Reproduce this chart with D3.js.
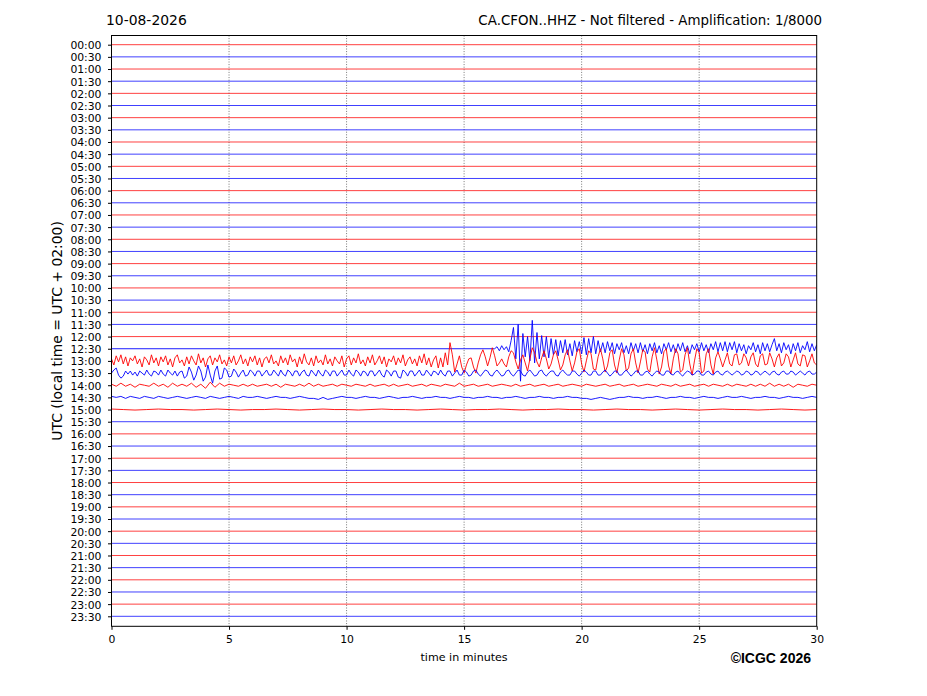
<!DOCTYPE html>
<html>
<head>
<meta charset="utf-8">
<script src="https://cdn.jsdelivr.net/npm/d3@7"></script>
<style>
  body { margin: 0; background: #fff; }
  svg text { font-family: "DejaVu Sans", sans-serif; fill: #000; }
  .ejes path, .ejes line { stroke: #000; }
</style>
</head>
<body>
<div id="helicorder"></div>
<script>
// ---- datos ----
const fecha = "10-08-2026"
const titulo = "CA.CFON..HHZ - Not filtered - Amplification: 1/8000"
const etiquetaY = "UTC (local time = UTC + 02:00)"
const etiquetaX = "time in minutes"
const copyright = "©ICGC 2026"

const horas = d3.range(48).map(i => String(Math.floor(i / 2)).padStart(2, "0") + (i % 2 ? ":30" : ":00"))
const minutosTicks = [0, 5, 10, 15, 20, 25, 30]
const colores = ["#ff0000", "#0000ff"]

// amplitudes (12 unidades = separacion entre trazas), positivo hacia arriba
// 12:30 : plana hasta el inicio del evento
const inicio1230 = 16.3
const traza1230 = [
  0, 2, -2, 3, -1, 2, -3,
  8, 21, -10, 24, -32, 15, -8, 12, -12, 28,
  -14, 16, -10, 13, -8, 12, -9, 10, -6, 9,
  -7, 8, -4, 9, -6, 5, -7, 8, -3, 7,
  -5, 11, -6, 10, -4, 12, -5, 8, -3, 6,
  -4, 7, -2, 6, -5, 5, -1, 6, -4, 3,
  -5, 6, -2, 5, -4, 6, -3, 4, -5, 5,
  -2, 6, -4, 3, -5, 5, -1, 6, -3, 4,
  -4, 5, -2, 6, -3, 3, -5, 4, -1, 5,
  -3, 6, -2, 4, -4, 5, -1, 7, -3, 6,
  -2, 7, -3, 6, -1, 7, -4, 5, -2, 4,
  -5, 3, -1, 6, -3, 4, -5, 6, -2, 5,
  -3, 4, 10, -2, 5, -4, 6, -1, 4, -5,
  5, -2, 6, -4, 3, -1, 7, -3, 5, -2,
  4
]
// 13:00 (cada 0.1 min)
const traza1300 = [
  2, -4, 5, -1, 6, -3, 4, -5, 3, 0,
  5, -3, 2, -6, 4, 1, -4, 6, -2, 3,
  -5, 4, -1, 5, -4, 2, -6, 3, 6, -2,
  1, -5, 4, -3, 5, 0, -4, 7, -2, 3,
  -6, 2, 5, -4, 3, -1, 6, -3, 1, -5,
  4, -2, 5, -4, 0, 6, -3, 2, -5, 4,
  -1, 5, -4, 3, -6, 2, 4, -2, 6, -3,
  0, -5, 5, -2, 3, -4, 6, -1, 2, -6,
  4, -3, 7, -1, -4, 3, -5, 5, -2, 1,
  -4, 6, -3, 2, -5, 4, 0, -3, 5, -6,
  2, 5, -4, 3, -2, 7, -3, 1, -5, 4,
  -2, 6, -4, 0, 5, -3, 4, -6, 2, -1,
  5, -4, 3, -2, 6, -5, 1, 4, -3, 2,
  -5, 5, -2, 7, -4, 3, -6, 1, 5, -7,
  3, -6, 8, -4, 18, 6, -11, -3, 5, -6,
  -12, -4, 2, 3, -6, -12, -2, 6, 11, 4,
  -5, 3, 13, 5, -5, -2, 2, -3, -6, 4,
  10, 8, -1, -8, 1, 6, -2, -10, 2, 13,
  8, -1, -6, 3, 10, 2, -8, -3, 6, 10,
  1, -9, -4, 6, 11, 0, -10, -2, 9, 12,
  -3, -11, 0, 10, 7, -8, -9, 4, 12, 2,
  -11, -5, 8, 11, -4, -12, 1, 12, 6, -10,
  -7, 7, 12, -2, -12, -1, 11, 9, -8, -11,
  4, 13, 1, -13, -6, 9, 12, -5, -13, 2,
  12, 7, -11, -9, 6, 13, -3, -14, 0, 12,
  8, -12, -10, 7, 12, -4, -13, 3, 9, 2,
  -6, 1, 8, -3, -5, 6, 7, -4, -2, 7,
  3, -5, 4, 8, -3, -6, 5, 7, -4, -3,
  8, 2, -6, 3, 7, -5, -2, 7, 4, -6,
  1, 8, -3, -5, 6, 5, -6, 0, 7, -2,
  -4
]
// 13:30 (cada 0.1 min)
const traza1330 = [
  0, 3, 5, -2, -5, -3, 2, -1, 2, -2,
  1, -3, 2, 0, -2, 3, -1, -3, 2, 1,
  -2, 3, -1, -3, 3, 0, -2, 2, -3, 1,
  2, -5, -3, 6, 1, -7, -2, 7, 2, -8,
  -4, 8, -2, -10, 2, 7, -6, -5, 5, 3,
  -4, -3, 4, 1, -4, 0, 3, -3, -2, 3,
  1, -3, 2, 2, -3, 0, 3, -2, -2, 3,
  0, -3, 3, -1, -3, 3, 1, -3, 2, 2,
  -3, 1, 3, -2, -3, 3, 0, -3, 3, -1,
  -3, 3, 1, -3, 2, 2, -3, 0, 3, -2,
  -2, 3, -1, -3, 3, 1, -3, 2, 1, -3,
  2, 2, -3, 0, 3, -2, -4, 3, 1, -3,
  2, 2, -4, -5, 3, 1, -3, 2, 2, -3,
  0, 3, -2, -2, 3, 0, -3, 2, 1, -2,
  3, -1, -3, 2, 2, -3, 0, 3, -2, -2,
  3, 1, -3, -2, 2, 3, -1, -3, 0, 3,
  2, -2, -3, 1, 3, 0, -3, -2, 2, 3,
  -1, -3, 0, 3, 2, -2, -3, 1, 3, 0,
  -3, -2, 2, 3, -1, -3, 0, 2, 2, -2,
  -3, 1, 3, 0, -2, -2, 2, 2, -1, -3,
  0, 3, 1, -2, -2, 2, 2, -2, -2, 1,
  3, 0, -3, -1, 2, 2, -2, -2, 1, 3,
  0, -3, -1, 2, 2, -2, -2, 1, 2, -1,
  -3, 0, 2, 1, -2, -2, 2, 2, -1, -2,
  1, 2, -1, -3, 0, 2, 1, -2, -1, 2,
  2, -2, -2, 1, 2, -1, -2, 1, 2, -1,
  -2, 1, 2, 0, -2, 0, 2, 1, -2, -1,
  2, 1, -2, -1, 2, 1, -2, 0, 2, 0,
  -2, 1, 2, -1, -2, 1, 2, -1, -1, 2,
  1, -2, 0, 2, 0, -2, 1, 2, -1, -1,
  1
]
// 14:00 (cada 0.2 min)
const traza1400 = [
  1, -1, 2, -1, 1, -2, 1, 0, -1, 2,
  -1, 1, -2, 2, -1, 1, -1, 2, -2, 1,
  -3, 3, -2, 2, -1, 1, 0, -1, 1, -1,
  1, -1, 0, 1, -1, 1, -2, 1, 0, -1,
  1, -1, 2, -1, 1, -1, 0, 1, -1, 1,
  0, -1, 1, 0, -1, 1, -1, 0, 1, -1,
  1, -1, 0, 1, -1, 0, 1, -1, 1, 0,
  -1, 1, 0, -1, 2, -1, 0, 1, -1, 0,
  1, -1, 0, 1, 0, -1, 1, -1, 0, 1,
  -1, 0, 1, -1, 0, 1, -1, 0, 1, 0,
  -1, 1, 0, -1, 0, 1, -1, 0, 1, -1,
  0, 1, -1, 0, 1, 0, -1, 1, 0, -1,
  1, -1, 0, 1, -1, 0, 1, -1, 1, 0,
  -1, 1, -1, 1, 0, -1, 1, -1, 1, -1,
  2, -1, 1, -1, 1, -2, 1, 0, -1, 1,
  0
]
// 14:30 (cada 0.2 min)
const traza1430 = [
  1, 0, 1, -1, 1, 0, -1, 1, 0, -1,
  1, 0, -1, 0, 1, 0, -1, 0, 1, 0,
  -1, 1, 0, -1, 0, 1, 0, -1, 1, 0,
  0, 1, 0, -1, 0, 1, 0, 0, -1, 0,
  1, 0, -1, -1, -2, 0, -2, -1, 0, 1,
  0, 0, -1, 0, 1, 0, 0, -1, 0, 1,
  0, -1, 0, 0, 1, 0, -1, 0, 0, 1,
  0, 0, -1, 0, 1, 0, 0, -1, 0, 0,
  1, 0, 0, -1, 0, 0, 1, 0, -1, 0,
  0, 1, 0, 0, -1, 0, 0, 1, 0, 0,
  -1, -1, -2, -1, 0, -1, -2, -1, 0, 0,
  1, 0, 0, -1, 0, 0, 1, 0, -1, 0,
  0, 1, 0, 0, -1, 0, 1, 0, 0, -1,
  0, 1, 0, 0, 1, 0, -1, 0, 0, 1,
  0, 0, -1, 0, 1, 0, 0, -1, 0, 1,
  0
]
// 15:00 (cada 0.5 min)
const traza1500 = [
  0.5, 0, -0.5, 0, 0.5, 0, 0, -0.5, 0, 0.5,
  0, -0.5, 0, 0, 0.5, 0, -0.5, 0, 0.5, 0,
  0, -0.5, 0, 0.5, 0, 0, -0.5, 0, 0.5, 0,
  -0.5, 0, 0, 0.5, 0, -0.5, 0, 0, 0.5, 0,
  0, -0.5, 0, 0.5, 0, 0, -0.5, 0, 0.5, 0,
  -0.5, 0, 0.5, 0, 0, -0.5, 0, 0.5, 0, -0.5,
  0
]
const plana = [0, 0]

// ---- geometria ----
const ancho = 927, alto = 696
const margins = { left: 111.5, top: 35.5, right: 927 - 816.7, bottom: 696 - 626.3 }
const graf_ancho = ancho - margins.left - margins.right
const graf_alto = alto - margins.top - margins.bottom

const svg = d3.select("#helicorder").append("svg")
  .attr("width", ancho).attr("height", alto)

const g = svg.append("g").attr("transform", `translate(${margins.left}, ${margins.top})`)

const x = d3.scaleLinear().domain([0, 30]).range([0, graf_ancho])
const y = d3.scaleLinear().domain([0, 47]).range([44.7 - margins.top, 616.3 - margins.top])
const sep = y(1) - y(0)
const amp = d3.scaleLinear().domain([0, 12]).range([0, -sep])

// rejilla vertical punteada
g.selectAll("line.grid").data([5, 10, 15, 20, 25]).enter().append("line")
  .attr("class", "grid")
  .attr("x1", d => x(d)).attr("x2", d => x(d))
  .attr("y1", 0).attr("y2", graf_alto)
  .attr("stroke", "#555").attr("stroke-width", 0.8).attr("stroke-dasharray", "1,1.6")

g.append("clipPath").attr("id", "clip").append("rect")
  .attr("width", graf_ancho).attr("height", graf_alto)

const especiales = { 25: traza1230, 26: traza1300, 27: traza1330, 28: traza1400, 29: traza1430, 30: traza1500 }

const trazas = horas.map((h, i) => {
  const vals = especiales[i] || plana
  const t0 = i === 25 ? inicio1230 : 0
  const paso = (30 - t0) / (vals.length - 1)
  let pts = vals.map((v, k) => ({ t: t0 + k * paso, v }))
  if (t0 > 0) pts = [{ t: 0, v: 0 }].concat(pts)
  return { i, pts, color: colores[i % 2] }
})

const linea = d3.line()

g.append("g").attr("clip-path", "url(#clip)")
  .selectAll("path").data(trazas).enter().append("path")
  .attr("d", d => linea(d.pts.map(p => [x(p.t), y(d.i) + amp(p.v)])))
  .attr("fill", "none")
  .attr("stroke", d => d.color)
  .attr("stroke-width", d => (especiales[d.i] ? 0.9 : 0.75))
  .attr("stroke-linejoin", "round")

// ejes
const ejeY = g.append("g").attr("class", "ejes")
  .call(d3.axisLeft(y).tickValues(d3.range(48)).tickFormat(i => horas[i]).tickSize(3.5).tickSizeOuter(0))
ejeY.select(".domain").remove()
ejeY.selectAll("text").attr("font-size", "10.8px").attr("x", -10).attr("dy", "0.36em")

const ejeX = g.append("g").attr("class", "ejes")
  .attr("transform", `translate(0, ${graf_alto})`)
  .call(d3.axisBottom(x).tickValues(minutosTicks).tickSize(3.5).tickSizeOuter(0))
ejeX.select(".domain").remove()
ejeX.selectAll("text").attr("font-size", "10.8px").attr("y", 9)

g.append("rect").attr("width", graf_ancho).attr("height", graf_alto)
  .attr("fill", "none").attr("stroke", "#000").attr("stroke-width", 1)

// textos
svg.append("text").attr("x", 106).attr("y", 25).attr("font-size", "13.9px").text(fecha)
svg.append("text").attr("x", 822).attr("y", 25).attr("font-size", "13.4px")
  .attr("text-anchor", "end").text(titulo)
svg.append("text").attr("transform", `translate(62, ${margins.top + graf_alto / 2}) rotate(-90)`)
  .attr("text-anchor", "middle").attr("font-size", "13.9px").text(etiquetaY)
svg.append("text").attr("x", margins.left + graf_ancho / 2).attr("y", 661)
  .attr("text-anchor", "middle").attr("font-size", "11.1px").text(etiquetaX)
svg.append("text").attr("x", 811).attr("y", 663).attr("text-anchor", "end")
  .attr("font-size", "14px").attr("font-weight", "bold")
  .style("font-family", "'Liberation Sans', Arial, sans-serif").text(copyright)
</script>
</body>
</html>
